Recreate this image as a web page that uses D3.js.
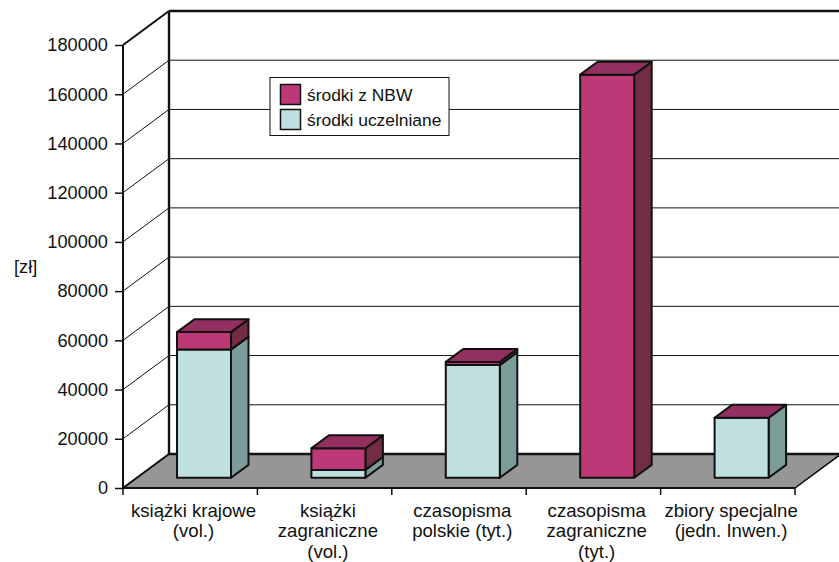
<!DOCTYPE html>
<html><head><meta charset="utf-8">
<script src="https://cdn.jsdelivr.net/npm/d3@7/dist/d3.min.js"></script>
<style>html,body{margin:0;padding:0;background:#fff}svg{display:block}text{font-family:"Liberation Sans",Arial,sans-serif;fill:#111}</style>
</head><body><svg id="c" width="839" height="562"></svg>
<script>
const categories=[["książki krajowe","(vol.)"],["książki","zagraniczne","(vol.)"],["czasopisma","polskie (tyt.)"],["czasopisma","zagraniczne","(tyt.)"],["zbiory specjalne","(jedn. Inwen.)"]];
const seriesNames=["środki z NBW","środki uczelniane"];
const uczelniane=[52100,3200,45800,0,24400];
const nbw=[7100,8800,1300,163800,0];
const tickValues=[0,20000,40000,60000,80000,100000,120000,140000,160000,180000];
const yLabel="[zł]";

const svg=d3.select("#c");
const x=d3.scaleBand().domain(d3.range(categories.length)).range([123,795]).paddingInner(0.598).paddingOuter(0.299);
const y=d3.scaleLinear().domain([0,180000]).range([488,45]);
const depthX=d3.scaleLinear().domain([0,1]).range([0,46]);
const depthY=d3.scaleLinear().domain([0,1]).range([0,-34]);
const P=(px,py,z)=>[px+depthX(z),py+depthY(z)];
const line=d3.line();
const poly=(pts,fill,sw=2)=>svg.append("path").attr("d",line(pts)+"Z").attr("fill",fill).attr("stroke","#111").attr("stroke-width",sw).attr("stroke-linejoin","round");
const seg=(a,b,sw)=>svg.append("path").attr("d",line([a,b])).attr("stroke","#111").attr("stroke-width",sw).attr("fill","none");

// floor
poly([P(123,y(0),0),P(795,y(0),0),P(795,y(0),1),P(123,y(0),1)],"#969696",1);
// gridlines
tickValues.slice(1).forEach(t=>{
  const sw=t===180000?2.4:1;
  seg(P(123,y(t),0),P(123,y(t),1),t===180000?2:1);
  seg(P(123,y(t),1),P(795,y(t),1),sw);
});
seg(P(123,y(0),1),P(123,y(180000),1),2.4);
seg(P(123,y(0),1),P(795,y(0),1),2.4);
seg(P(123,y(0),0),P(123,y(0),1),2);
seg(P(123,y(0),0),P(123,y(180000),0),2);
seg(P(123,y(0),0),P(795,y(0),0),2);
seg(P(795,y(0),0),P(795,y(0),1),1.5);

// axis ticks and labels
const yAxis=d3.axisLeft(y).tickValues(tickValues).tickFormat(d3.format("d")).tickSize(8).tickPadding(7);
const gy=svg.append("g").attr("transform","translate(123,0)").call(yAxis);
gy.select(".domain").remove();
gy.selectAll("line").attr("stroke","#111").attr("stroke-width",1.5);
gy.selectAll("text").attr("font-size",18.2).attr("font-family",null).attr("fill","#111");
const xTicks=d3.range(categories.length+1).map(i=>123+i*x.step());
svg.selectAll(".xt").data(xTicks).join("line").attr("x1",d=>d).attr("x2",d=>d).attr("y1",488).attr("y2",495).attr("stroke","#111").attr("stroke-width",1.5);

// bars
const zFront=0.3,zBack=0.68;
const faces={red:["#BC3877","#93305F","#722C44"],teal:["#C0E0E0","#C0E0E0","#7C9C9A"]};
function box(i,v0,v1,c,showTop){
  if(v1<=v0)return;
  const l=x(i),r=l+x.bandwidth(),b=y(v0),t=y(v1);
  poly([P(r,b,zFront),P(r,b,zBack),P(r,t,zBack),P(r,t,zFront)],c[2]);
  poly([P(l,b,zFront),P(r,b,zFront),P(r,t,zFront),P(l,t,zFront)],c[0]);
  if(showTop)poly([P(l,t,zFront),P(r,t,zFront),P(r,t,zBack),P(l,t,zBack)],faces.red[1]);
}
categories.forEach((c,i)=>{
  box(i,0,uczelniane[i],faces.teal,nbw[i]===0);
  box(i,uczelniane[i],uczelniane[i]+nbw[i],faces.red,nbw[i]>0);
});

// category labels
categories.forEach((c,i)=>{
  const cx=x(i)+x.bandwidth()/2+3.3;
  const t=svg.append("text").attr("text-anchor","middle").attr("font-size",18.6);
  c.forEach((s,k)=>t.append("tspan").attr("x",cx).attr("y",516.5+k*20.8).text(s));
});
svg.append("text").attr("x",14).attr("y",273).attr("font-size",18.2).text(yLabel);

// legend
const lg=svg.append("g");
lg.append("rect").attr("x",270).attr("y",77.5).attr("width",179).attr("height",58).attr("fill","#fff").attr("stroke","#111").attr("stroke-width",1);
[faces.red[0],faces.teal[0]].forEach((col,i)=>{
  lg.append("rect").attr("x",280.5).attr("y",84.5+i*25).attr("width",20).attr("height",20).attr("fill",col).attr("stroke","#111").attr("stroke-width",1.5);
  lg.append("text").attr("x",307).attr("y",100.5+i*25).attr("font-size",17.4).text(seriesNames[i]);
});
</script></body></html>
